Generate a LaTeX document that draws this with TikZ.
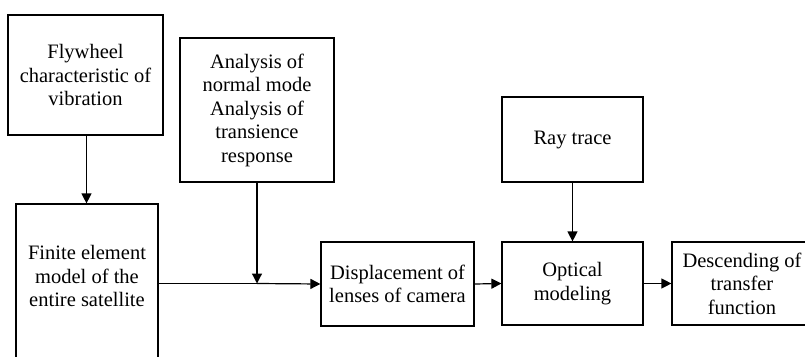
\documentclass[tikz,border=0pt]{standalone}
\usepackage{fontspec}
\setmainfont{Liberation Serif}
\usetikzlibrary{arrows.meta}
\begin{document}
\begin{tikzpicture}[x=1pt,y=-1pt,
  box/.style={draw,line width=1.2pt,rectangle,inner sep=0pt,align=center,
    font=\fontsize{20.5}{23.5}\selectfont},
  plain/.style={inner sep=0pt,align=center,font=\fontsize{20.5}{23.5}\selectfont},
  conn/.style={line width=1.2pt,-{Triangle[length=10pt,width=10pt]}},
  every node/.append style={text=black}]
\useasboundingbox (0,0) rectangle (805,356);
\clip (0,0) rectangle (805,356);
\node[box,minimum width=155pt,minimum height=120pt] (fly) at (85.5,75) {Flywheel\\characteristic of\\vibration};
\node[box,minimum width=142pt,minimum height=170pt] (fem) at (87,289) {};
\node[plain] (femtext) at (87,276) {Finite element\\model of the\\entire satellite};
\node[box,minimum width=154pt,minimum height=144pt] (ana) at (257,110) {Analysis of\\normal mode\\Analysis of\\transience\\response};
\node[box,minimum width=153pt,minimum height=84pt] (disp) at (397.5,284) {Displacement of\\lenses of camera};
\node[box,minimum width=141pt,minimum height=85pt] (ray) at (572.5,139.5) {Ray trace};
\node[box,minimum width=141pt,minimum height=83pt] (opt) at (572.5,283.5) {Optical\\modeling};
\node[box,minimum width=140pt,minimum height=83pt] (desc) at (742,283.5) {Descending of\\transfer\\function};
\coordinate (join) at (257,283.5);
\draw[conn] (fly.south -| 86.5,0) -- (86.5,0 |- fem.north);
\draw[line width=1.2pt] (fem.east |- join) -- (join);
\draw[conn] (join) -- (disp.west);
\draw[conn] (ana.south) -- (join);
\draw[conn] (disp.east) -- (opt.west);
\draw[conn] (ray.south) -- (opt.north);
\draw[conn] (opt.east) -- (desc.west);
\end{tikzpicture}
\end{document}
